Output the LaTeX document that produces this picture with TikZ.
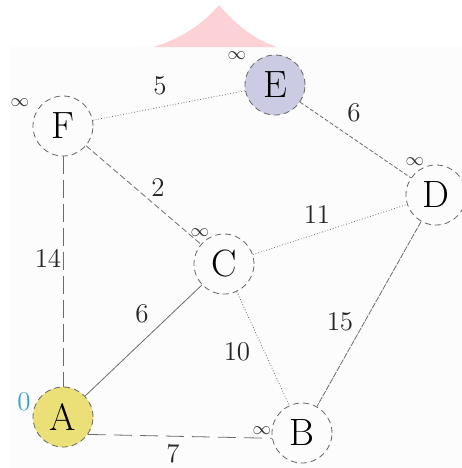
\documentclass[tikz,border=0pt]{standalone}
\usepackage{xcolor}

\definecolor{tentpink}{HTML}{FCD2D6}
\definecolor{lavend}{HTML}{CBCBE4}
\definecolor{sunny}{HTML}{EBDF78}
\definecolor{zerocol}{HTML}{3AA4C6}

\begin{document}
\begin{tikzpicture}[x=0.5pt,y=-0.5pt,
  vert/.style={circle,draw=gray!80!black,densely dashed,line width=0.4pt,
    minimum size=30pt,inner sep=0pt,font=\fontsize{19}{21}\selectfont},
  wt/.style={font=\fontsize{13.5}{15}\selectfont,text=black!85},
  inf/.style={font=\fontsize{9.5}{11}\selectfont,text=black!80},
  edge/.style={draw=gray!85!black,line width=0.4pt}]
\useasboundingbox (0,0) rectangle (462,468);
\fill[black!1] (10,47) rectangle (462,468);

% pink mark on top
\fill[tentpink] (153,47) .. controls (185,38) and (206,20) .. (219,5)
  .. controls (232,20) and (250,38) .. (277,47) -- cycle;

\node[vert] (F) at (63,126) {F};
\node[vert,fill=lavend] (E) at (275,85) {E};
\node[vert] (D) at (436,195) {D};
\node[vert] (C) at (224,264) {C};
\node[vert,fill=sunny] (A) at (63,417) {A};
\node[vert] (B) at (302,433) {B};

\draw[edge,densely dotted] (F) -- (E);
\draw[edge,dash pattern=on 2pt off 1pt] (E) -- (D);
\draw[edge,dash pattern=on 3pt off 1.5pt] (F) -- (C);
\draw[edge,densely dotted] (C) -- (D);
\draw[edge,dash pattern=on 9pt off 3pt] (F) -- (A);
\draw[edge] (A) -- (C);
\draw[edge,densely dotted] (C) -- (B);
\draw[edge,dash pattern=on 3pt off 0.6pt] (D) -- (B);
\draw[edge,dash pattern=on 9pt off 4pt] (A.-35) -- (B.190);

\node[wt] (wFE) at (160,86) {5};
\node[wt] (wED) at (354,113) {6};
\node[wt] (wFC) at (158,188) {2};
\node[wt] (wCD) at (317,215) {11};
\node[wt] (wFA) at (48,258) {14};
\node[wt] (wAC) at (142,314) {6};
\node[wt] (wCB) at (237,352) {10};
\node[wt] (wDB) at (340,322) {15};
\node[wt] (wAB) at (173,454) {7};

\node[inf] (iF) at (20,103) {$\infty$};
\node[inf] (iE) at (237,56) {$\infty$};
\node[inf] (iD) at (415,162) {$\infty$};
\node[inf] (iC) at (200,233) {$\infty$};
\node[inf] (iB) at (262,431) {$\infty$};
\node[wt,text=zerocol] (iA) at (24,402) {0};
\end{tikzpicture}
\end{document}
